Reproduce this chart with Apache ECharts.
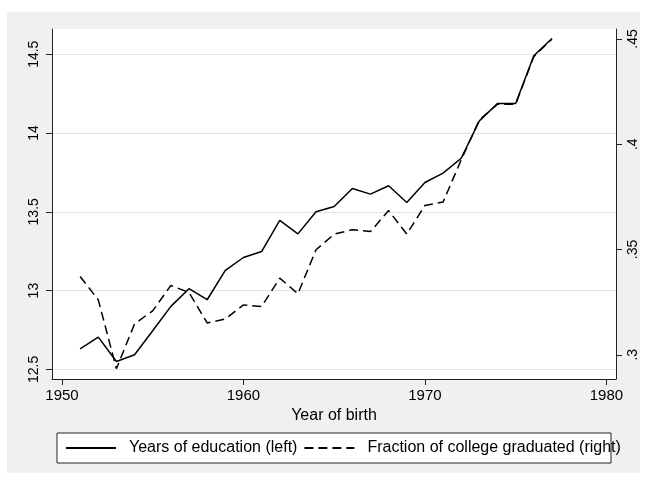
<!DOCTYPE html>
<html>
<head>
<meta charset="utf-8">
<script src="https://cdn.jsdelivr.net/npm/echarts@6/dist/echarts.min.js"></script>
<style>
html,body{margin:0;padding:0;background:#fff;}
#chart{width:648px;height:477px;}
</style>
</head>
<body>
<div id="chart"></div>
<script>
const years = [1951,1952,1953,1954,1955,1956,1957,1958,1959,1960,1961,1962,1963,1964,1965,1966,1967,1968,1969,1970,1971,1972,1973,1974,1975,1976,1977];
const education = [12.63,12.705,12.55,12.593,12.745,12.90,13.012,12.942,13.128,13.21,13.248,13.445,13.36,13.50,13.534,13.648,13.612,13.665,13.559,13.686,13.745,13.84,14.077,14.187,14.187,14.49,14.60];
const collegeFraction = [0.3372,0.3261,0.2934,0.3147,0.3209,0.3329,0.3296,0.3151,0.317,0.3237,0.3229,0.3364,0.329,0.3499,0.3573,0.3594,0.3585,0.3685,0.3573,0.3709,0.3725,0.3926,0.4115,0.419,0.419,0.4416,0.4499];
const xTicks = [1950,1960,1970,1980];
const leftTicks = [12.5,13,13.5,14,14.5];
const rightTicks = [0.3,0.35,0.4,0.45];
const seriesNames = ['Years of education (left)','Fraction of college graduated (right)'];
const xTitle = 'Year of birth';

const FONT = '"Liberation Sans", Arial, Helvetica, sans-serif';
const chart = echarts.init(document.getElementById('chart'), null, {renderer:'canvas'});
const axisCommon = {
  axisLine:{show:true,onZero:false,lineStyle:{color:'#222',width:1}},
  axisTick:{show:true,length:6,lineStyle:{color:'#222',width:1}},
};
chart.setOption({
  animation:false,
  backgroundColor:'#fff',
  graphic:[
    {type:'rect',z:-100,shape:{x:7,y:12,width:633,height:461},style:{fill:'#f0f0f0'},silent:true},
    {type:'rect',z:2,shape:{x:57,y:433,width:554,height:30},style:{fill:'#fff',stroke:'#222',lineWidth:1},silent:true}
  ],
  grid:{left:52,right:32,top:29,bottom:98,show:true,backgroundColor:'#fff',borderWidth:0,containLabel:false},
  legend:{
    data:seriesNames,
    left:65,top:440,padding:0,itemGap:6,itemWidth:50,itemHeight:14,z:5,
    itemStyle:{color:'rgba(0,0,0,0)',borderWidth:0,opacity:0},
    textStyle:{fontFamily:FONT,fontSize:16,color:'#000',padding:[0,0,0,8]},
    selectedMode:false
  },
  xAxis:Object.assign({}, axisCommon, {
    type:'value',min:1949.45,max:1980.53,splitNumber:3,
    splitLine:{show:false},
    axisTick:Object.assign({}, axisCommon.axisTick, {customValues:xTicks}),
    axisLabel:{customValues:xTicks,fontFamily:FONT,fontSize:15,color:'#000',margin:9,formatter:v=>String(v)},
    name:xTitle,nameLocation:'middle',nameGap:26,
    nameTextStyle:{fontFamily:FONT,fontSize:16,color:'#000'}
  }),
  yAxis:[
    Object.assign({}, axisCommon, {
      type:'value',position:'left',min:12.439,max:14.66,splitNumber:4,
      splitLine:{show:true,lineStyle:{color:'#e2e2e2',width:1}},
      axisTick:Object.assign({}, axisCommon.axisTick, {customValues:leftTicks}),
      axisLabel:{customValues:leftTicks,rotate:90,fontFamily:FONT,fontSize:14,color:'#000',margin:11,
        formatter:v=>String(+(+v).toFixed(2))}
    }),
    Object.assign({}, axisCommon, {
      type:'value',position:'right',min:0.2885,max:0.4547,splitNumber:3,alignTicks:false,
      splitLine:{show:false},
      axisTick:Object.assign({}, axisCommon.axisTick, {customValues:rightTicks}),
      axisLabel:{customValues:rightTicks,rotate:90,fontFamily:FONT,fontSize:14,color:'#000',margin:10,
        formatter:v=>String(+(+v).toFixed(2)).replace(/^0/,'')}
    })
  ],
  series:[
    {type:'line',name:seriesNames[0],yAxisIndex:0,symbol:'none',
     data:years.map((y,i)=>[y,education[i]]),
     lineStyle:{color:'#000',width:1.5,type:'solid'},itemStyle:{color:'#000'}},
    {type:'line',name:seriesNames[1],yAxisIndex:1,symbol:'none',
     data:years.map((y,i)=>[y,collegeFraction[i]]),
     lineStyle:{color:'#000',width:1.5,type:[9,5]},itemStyle:{color:'#000'}}
  ]
});
</script>
</body>
</html>
